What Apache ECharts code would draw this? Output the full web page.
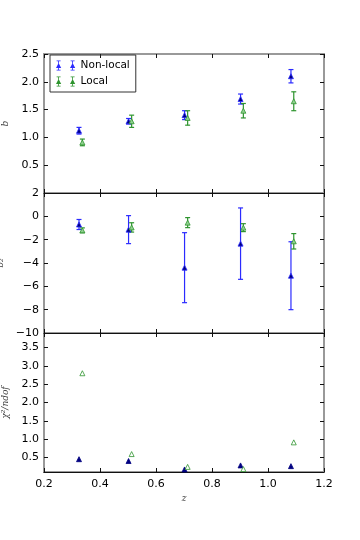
<!DOCTYPE html>
<html>
<head>
<meta charset="utf-8">
<script src="https://cdn.jsdelivr.net/npm/echarts@6/dist/echarts.min.js"></script>
<style>
html, body { margin: 0; padding: 0; background: #fff; }
#chart { width: 360px; height: 540px; }
</style>
</head>
<body>
<div id="chart"></div>
<script>
// redshift positions (local points are slightly offset in z)
var zNonLocal = [0.325, 0.502, 0.702, 0.902, 1.082];
var zLocal = [0.337, 0.513, 0.713, 0.912, 1.092];

// linear bias b
var bNonLocal = [1.12, 1.29, 1.40, 1.69, 2.10];
var bNonLocalErr = [0.06, 0.05, 0.08, 0.09, 0.12];
var bLocal = [0.91, 1.29, 1.35, 1.48, 1.65];
var bLocalErr = [0.06, 0.11, 0.13, 0.13, 0.17];

// second order bias b2
var b2NonLocal = [-0.70, -1.14, -4.40, -2.34, -5.09];
var b2NonLocalErr = [0.43, 1.20, 3.00, 3.06, 2.91];
var b2Local = [-1.20, -0.95, -0.54, -0.97, -2.14];
var b2LocalErr = [0.21, 0.40, 0.43, 0.34, 0.66];

// chi^2 / ndof
var chiNonLocal = [0.45, 0.40, 0.17, 0.28, 0.26];
var chiLocal = [2.80, 0.59, 0.24, 0.18, 0.91];

var chiTicks = [0.5, 1.0, 1.5, 2.0, 2.5, 3.0, 3.5];

var BLUE = '#2b2bff';
var NAVY = '#000080';
var GREEN = '#2e942e';
var LIGHTGREEN = '#8fd08f';
var FONT = 'DejaVu Sans';

var myChart = echarts.init(document.getElementById('chart'));

function pairs(z, v) {
    return z.map(function (x, i) { return [x, v[i]]; });
}
function errData(z, v, e) {
    return z.map(function (x, i) { return [x, v[i] - e[i], v[i] + e[i]]; });
}
function errSeries(name, idx, z, v, e, color) {
    return {
        name: name,
        type: 'custom',
        xAxisIndex: idx,
        yAxisIndex: idx,
        z: 2,
        data: errData(z, v, e),
        encode: { x: 0, y: [1, 2] },
        renderItem: function (params, api) {
            var lo = api.coord([api.value(0), api.value(1)]);
            var hi = api.coord([api.value(0), api.value(2)]);
            var st = { stroke: color, lineWidth: 1.2 };
            return {
                type: 'group',
                children: [
                    { type: 'line', shape: { x1: lo[0], y1: lo[1], x2: hi[0], y2: hi[1] }, style: st },
                    { type: 'line', shape: { x1: lo[0] - 2.5, y1: lo[1], x2: lo[0] + 2.5, y2: lo[1] }, style: st },
                    { type: 'line', shape: { x1: hi[0] - 2.5, y1: hi[1], x2: hi[0] + 2.5, y2: hi[1] }, style: st }
                ]
            };
        }
    };
}
function markSeries(name, idx, z, v, fill, border) {
    return {
        name: name,
        type: 'scatter',
        xAxisIndex: idx,
        yAxisIndex: idx,
        z: 3,
        symbol: 'triangle',
        symbolSize: 5,
        data: pairs(z, v),
        itemStyle: { color: fill, borderColor: border, borderWidth: 0.8, opacity: 1 }
    };
}

var grids = [54, 193, 333].map(function (top, i) {
    return {
        left: 44, right: 36, top: top, height: i === 1 ? 140 : 139,
        outerBoundsMode: 'none', containLabel: false,
        show: true, borderColor: '#999', borderWidth: 2
    };
});

var xAxes = [];
var yAxes = [];
[0, 1, 2].forEach(function (i) {
    // bottom x axis
    xAxes.push({
        type: 'value', gridIndex: i, min: 0.2, max: 1.2, interval: 0.2,
        position: 'bottom',
        axisLine: { onZero: false, lineStyle: { color: '#111', width: 1 } },
        axisTick: { inside: true, length: 4, lineStyle: { color: '#111' } },
        splitLine: { show: false },
        axisLabel: {
            show: i === 2, color: '#000', fontFamily: FONT, fontSize: 11, margin: 7,
            formatter: function (v) { return v.toFixed(1); }
        },
        name: i === 2 ? 'z' : '',
        nameLocation: 'middle', nameGap: 22,
        nameTextStyle: { fontFamily: 'DejaVu Serif', fontStyle: 'italic', fontSize: 9, color: '#444' }
    });
    // top x axis (ticks only)
    xAxes.push({
        type: 'value', gridIndex: i, min: 0.2, max: 1.2, interval: 0.2,
        position: 'top',
        axisLine: { show: false, onZero: false },
        axisTick: { inside: true, length: 4, lineStyle: { color: '#111' } },
        splitLine: { show: false },
        axisLabel: { show: false }
    });
});

var yNames = ['b', 'b\u2082', '\u03c7\u00b2/ndof'];
var yConf = [
    { min: 0, max: 2.5, interval: 0.5, fmt: function (v) { return v === 0 ? '' : v.toFixed(1); } },
    { min: -10, max: 2, interval: 2, fmt: function (v) { return v < 0 ? '\u2212' + Math.abs(v) : String(v); } },
    { min: 0.1, max: 3.9, custom: chiTicks, fmt: function (v) { return v.toFixed(1); } }
];
[0, 1, 2].forEach(function (i) {
    var c = yConf[i];
    var left = {
        type: 'value', gridIndex: i, min: c.min, max: c.max, position: 'left',
        axisLine: { show: false, onZero: false },
        axisTick: { inside: true, length: 4, lineStyle: { color: '#111' } },
        splitLine: { show: false },
        axisLabel: { color: '#000', fontFamily: FONT, fontSize: 11, margin: 5, formatter: c.fmt },
        name: yNames[i], nameLocation: 'middle', nameGap: 27, nameRotate: 90,
        nameTextStyle: { fontFamily: 'DejaVu Serif', fontStyle: 'italic', fontSize: 9, color: '#444' }
    };
    var right = {
        type: 'value', gridIndex: i, min: c.min, max: c.max, position: 'right',
        axisLine: { show: false, onZero: false },
        axisTick: { inside: true, length: 4, lineStyle: { color: '#111' } },
        splitLine: { show: false },
        axisLabel: { show: false }
    };
    if (c.custom) {
        left.axisLabel.customValues = c.custom;
        left.axisTick.customValues = c.custom;
        right.axisTick.customValues = c.custom;
        right.axisLabel.customValues = c.custom;
    } else {
        left.interval = c.interval;
        right.interval = c.interval;
    }
    yAxes.push(left);
    yAxes.push(right);
});

// panel i uses xAxis 2*i and yAxis 2*i
function ax(i) { return 2 * i; }

var legendIcon = 'path://M1,0h4v0.8h-4zM2.6,0h0.8v10h-0.8zM1,9.2h4v0.8h-4zM0.4,7.5L3,2.5L5.6,7.5z' +
    'M15,0h4v0.8h-4zM16.6,0h0.8v10h-0.8zM15,9.2h4v0.8h-4zM14.4,7.5L17,2.5L19.6,7.5z';

var series = [
    errSeries('Non-local', ax(0), zNonLocal, bNonLocal, bNonLocalErr, BLUE),
    markSeries('Non-local', ax(0), zNonLocal, bNonLocal, NAVY, BLUE),
    errSeries('Local', ax(0), zLocal, bLocal, bLocalErr, GREEN),
    markSeries('Local', ax(0), zLocal, bLocal, LIGHTGREEN, GREEN),

    errSeries('Non-local', ax(1), zNonLocal, b2NonLocal, b2NonLocalErr, BLUE),
    markSeries('Non-local', ax(1), zNonLocal, b2NonLocal, NAVY, BLUE),
    errSeries('Local', ax(1), zLocal, b2Local, b2LocalErr, GREEN),
    markSeries('Local', ax(1), zLocal, b2Local, LIGHTGREEN, GREEN),

    markSeries('Non-local', ax(2), zNonLocal, chiNonLocal, NAVY, NAVY),
    markSeries('Local', ax(2), zLocal, chiLocal, '#ffffff', GREEN)
];

var option = {
    animation: false,
    backgroundColor: '#fff',
    grid: grids,
    xAxis: xAxes,
    yAxis: yAxes,
    legend: {
        orient: 'vertical',
        left: 50, top: 55,
        padding: [5, 6, 5, 6],
        itemGap: 5,
        itemWidth: 20, itemHeight: 10,
        borderColor: '#333', borderWidth: 1,
        selectedMode: false,
        textStyle: { fontFamily: FONT, fontSize: 10.5, color: '#000' },
        data: [
            { name: 'Non-local', icon: legendIcon, itemStyle: { color: BLUE, borderWidth: 0 } },
            { name: 'Local', icon: legendIcon, itemStyle: { color: GREEN, borderWidth: 0 } }
        ]
    },
    series: series
};
myChart.setOption(option);
</script>
</body>
</html>
